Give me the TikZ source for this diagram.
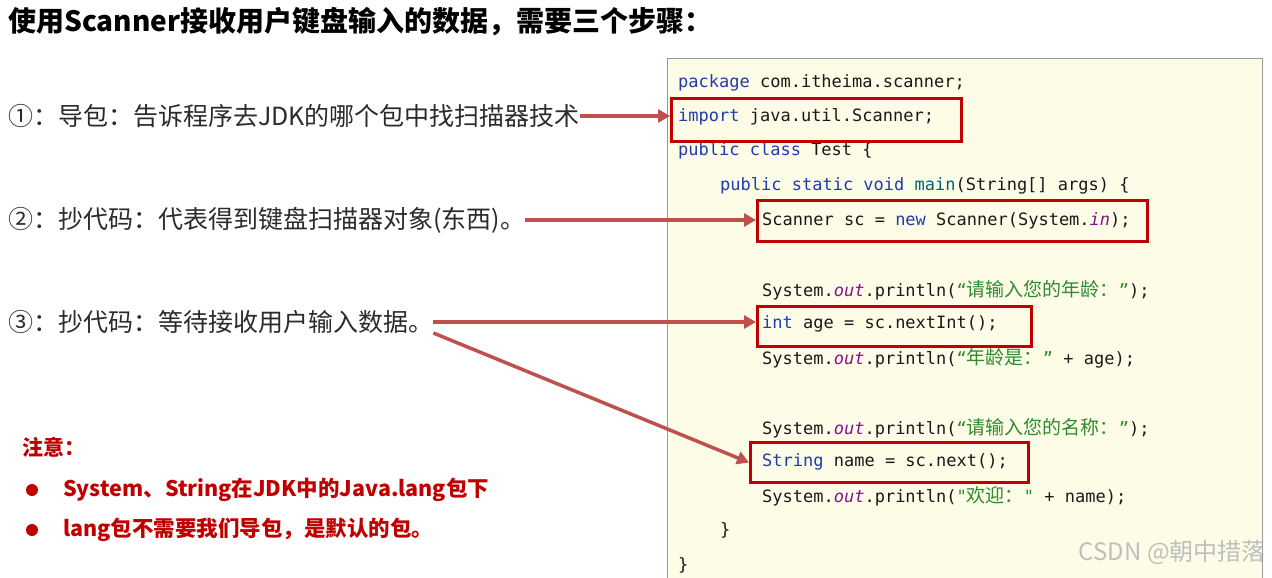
\documentclass[tikz,border=0pt]{standalone}
\usepackage{fontspec}
\setmainfont{Noto Sans CJK SC}
\newfontfamily\cjk{Noto Sans CJK SC}
\newfontfamily\codefont{DejaVu Sans Mono}
\usetikzlibrary{arrows.meta,positioning}

\definecolor{kwblue}{HTML}{1F3BAF}
\definecolor{fnteal}{HTML}{00627A}
\definecolor{stpurple}{HTML}{871094}
\definecolor{strgreen}{HTML}{2E8B2E}
\definecolor{codepaper}{HTML}{FDFCE7}
\definecolor{hlred}{HTML}{C00000}
\definecolor{arrowred}{HTML}{C0504D}
\definecolor{stepgray}{HTML}{2B2B2B}

\newcommand{\kw}[1]{\textcolor{kwblue}{#1}}
\newcommand{\st}[1]{\textcolor{stpurple}{\itshape #1}}
\newcommand{\str}[1]{\textcolor{strgreen}{#1}}
\newcommand{\zh}[1]{{\cjk\fontsize{19}{20}\selectfont #1}}

\begin{document}
\begin{tikzpicture}[
    x=1pt, y=-1pt,
    every node/.style={inner sep=0pt},
    title/.style={anchor=west, font=\fontsize{28}{32}\selectfont\bfseries, text=black},
    stepline/.style={anchor=west, font=\fontsize{25}{28}\selectfont, text=stepgray},
    codeline/.style={anchor=west, font=\codefont\fontsize{17}{20}\selectfont, text=black!90},
    hlbox/.style={draw=hlred, line width=3pt, anchor=north west},
    note/.style={anchor=west, font=\fontsize{21.5}{25}\selectfont\bfseries, text=hlred},
    pointer/.style={-{Triangle[length=12pt, width=13pt]}, line width=3.5pt, draw=arrowred}
]
\useasboundingbox (0,0) rectangle (1272,578);

% heading
\node[title] (head) at (8,22) {使用Scanner接收用户键盘输入的数据，需要三个步骤：};

% the three steps
\node[stepline] (step1) at (8,116) {①：导包：告诉程序去JDK的哪个包中找扫描器技术};
\node[stepline] (step2) at (8,220) {②：抄代码：代表得到键盘扫描器对象(东西)。};
\node[stepline] (step3) at (8,322) {③：抄代码：等待接收用户输入数据。};

% code panel
\draw[draw=black!40, fill=codepaper] (667,58) rectangle (1262,590);
\node[codeline] (c1) at (678,83) {\kw{package} com.itheima.scanner;};
\node[codeline] (c2) at (678,117) {\kw{import} java.util.Scanner;};
\node[codeline] (c3) at (678,151) {\kw{public class} Test \{};
\node[codeline] (c4) at (720,186) {\kw{public static void} \textcolor{fnteal}{main}(String[] args) \{};
\node[codeline] (c5) at (762,221) {Scanner sc = \kw{new} Scanner(System.\st{in});};
\node[codeline] (c6) at (762,290) {System.\st{out}.println(\str{“\zh{请输入您的年龄：}”});};
\node[codeline] (c7) at (762,324) {\kw{int} age = sc.nextInt();};
\node[codeline] (c8) at (762,358) {System.\st{out}.println(\str{“\zh{年龄是：}”} + age);};
\node[codeline] (c9) at (762,428) {System.\st{out}.println(\str{“\zh{请输入您的名称：}”});};
\node[codeline] (c10) at (762,462) {\kw{String} name = sc.next();};
\node[codeline] (c11) at (762,496) {System.\st{out}.println(\str{"\zh{欢迎：}"} + name);};
\node[codeline] (c12) at (720,530) {\}};
\node[codeline] (c13) at (678,565) {\}};

% highlighted lines
\node[hlbox, minimum width=290, minimum height=43] (impbox) at (670,97) {};
\node[hlbox, minimum width=390, minimum height=41] (scbox) at (756,199) {};
\node[hlbox, minimum width=274, minimum height=40] (intbox) at (756,305) {};
\node[hlbox, minimum width=278, minimum height=40] (strbox) at (749,441) {};

\draw[pointer] (step1.east) -- (step1.east -| impbox.west);
\draw[pointer] (step2.east) -- (step2.east -| scbox.west);
\draw[pointer] (step3.east) -- (step3.east -| intbox.west);
\draw[pointer] ([yshift=-11pt]step3.east) -- (strbox.west);

% notes
\node[note, font=\fontsize{21}{25}\selectfont\bfseries] (notehead) at (22,447) {注意：};
\node[note] (note1) at (63,490) {System、String在JDK中的Java.lang包下};
\node[note] (note2) at (63,530) {lang包不需要我们导包，是默认的包。};
\fill[hlred] (32,490) circle (6);
\fill[hlred] (32,530) circle (6);

\node[anchor=east, font=\fontsize{24}{28}\selectfont, text=black!25] (mark) at (1266,552) {CSDN @朝中措落};
\end{tikzpicture}
\end{document}
